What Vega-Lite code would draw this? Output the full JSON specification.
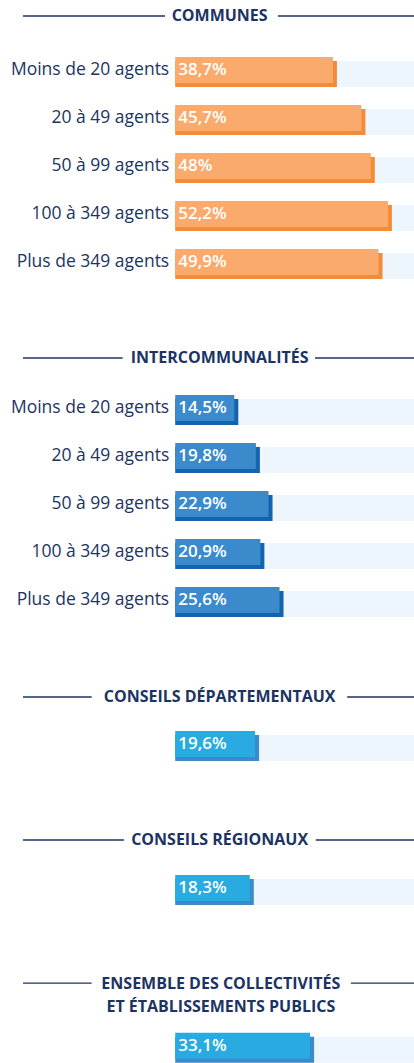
{
  "$schema": "https://vega.github.io/schema/vega-lite/v6.json",
  "padding": 0,
  "spacing": 48,
  "background": "white",
  "config": {"view": {"stroke": null}, "text": {"font": "Open Sans"}, "concat": {"spacing": 48}},
  "datasets": {
    "bars": [
      {"sec": "com", "row": "r1", "label": "Moins de 20 agents", "value": 38.7, "txt": "38,7%"},
      {"sec": "com", "row": "r2", "label": "20 à 49 agents", "value": 45.7, "txt": "45,7%"},
      {"sec": "com", "row": "r3", "label": "50 à 99 agents", "value": 48, "txt": "48%"},
      {"sec": "com", "row": "r4", "label": "100 à 349 agents", "value": 52.2, "txt": "52,2%"},
      {"sec": "com", "row": "r5", "label": "Plus de 349 agents", "value": 49.9, "txt": "49,9%"},
      {"sec": "int", "row": "r1", "label": "Moins de 20 agents", "value": 14.5, "txt": "14,5%"},
      {"sec": "int", "row": "r2", "label": "20 à 49 agents", "value": 19.8, "txt": "19,8%"},
      {"sec": "int", "row": "r3", "label": "50 à 99 agents", "value": 22.9, "txt": "22,9%"},
      {"sec": "int", "row": "r4", "label": "100 à 349 agents", "value": 20.9, "txt": "20,9%"},
      {"sec": "int", "row": "r5", "label": "Plus de 349 agents", "value": 25.6, "txt": "25,6%"},
      {"sec": "dep", "row": "r1", "label": "", "value": 19.6, "txt": "19,6%"},
      {"sec": "reg", "row": "r1", "label": "", "value": 18.3, "txt": "18,3%"},
      {"sec": "ens", "row": "r1", "label": "", "value": 33.1, "txt": "33,1%"}
    ],
    "heads": [
      {"sec": "com", "row": "h", "title": "COMMUNES"},
      {"sec": "int", "row": "h", "title": "INTERCOMMUNALITÉS"},
      {"sec": "dep", "row": "h", "title": "CONSEILS DÉPARTEMENTAUX"},
      {"sec": "reg", "row": "h", "title": "CONSEILS RÉGIONAUX"},
      {"sec": "ens", "row": "h", "title": "ENSEMBLE DES COLLECTIVITÉS\nET ÉTABLISSEMENTS PUBLICS"}
    ],
    "lines": [
      {"sec": "com", "row": "h", "a": -37.35, "b": -2.5},
      {"sec": "com", "row": "h", "a": 25.2, "b": 58.6},
      {"sec": "int", "row": "h", "a": -37.35, "b": -12.9},
      {"sec": "int", "row": "h", "a": 34.3, "b": 58.6},
      {"sec": "dep", "row": "h", "a": -37.35, "b": -20.5},
      {"sec": "dep", "row": "h", "a": 42.2, "b": 58.6},
      {"sec": "reg", "row": "h", "a": -37.35, "b": -12.6},
      {"sec": "reg", "row": "h", "a": 34.5, "b": 58.6},
      {"sec": "ens", "row": "h", "a": -37.35, "b": -20.5},
      {"sec": "ens", "row": "h", "a": 43.1, "b": 58.6}
    ]
  },
  "vconcat": [
    {
      "width": 414, "height": 288,
      "layer": [
        {"data": {"name": "bars"}, "transform": [{"filter": "datum.sec === 'com'"}],
         "mark": {"type": "bar", "height": 26, "yOffset": 2, "color": "#eef6fd"},
         "encoding": {
           "y": {"field": "row", "type": "nominal", "scale": {"domain": ["h", "r1", "r2", "r3", "r4", "r5"], "paddingInner": 0, "paddingOuter": 0}, "axis": null},
           "x": {"datum": 0, "type": "quantitative", "scale": {"domain": [-43, 58.6], "nice": false, "zero": false}, "axis": null},
           "x2": {"datum": 58.6}}},
        {"data": {"name": "bars"}, "transform": [{"filter": "datum.sec === 'com'"}],
         "mark": {"type": "bar", "height": 26, "yOffset": 2, "xOffset": 4, "color": "#f48c37"},
         "encoding": {"y": {"field": "row", "type": "nominal"}, "x": {"field": "value", "type": "quantitative"}, "x2": {"datum": 0}}},
        {"data": {"name": "bars"}, "transform": [{"filter": "datum.sec === 'com'"}],
         "mark": {"type": "bar", "height": 26, "yOffset": -2, "color": "#f9aa6c"},
         "encoding": {"y": {"field": "row", "type": "nominal"}, "x": {"field": "value", "type": "quantitative"}, "x2": {"datum": 0}}},
        {"data": {"name": "bars"}, "transform": [{"filter": "datum.sec === 'com'"}],
         "mark": {"type": "text", "align": "left", "baseline": "middle", "dx": 3, "dy": -2, "fontSize": 17, "fontWeight": 600, "color": "white"},
         "encoding": {"y": {"field": "row", "type": "nominal"}, "x": {"datum": 0, "type": "quantitative"}, "text": {"field": "txt"}}},
        {"data": {"name": "bars"}, "transform": [{"filter": "datum.sec === 'com'"}],
         "mark": {"type": "text", "align": "right", "baseline": "middle", "dx": -6, "dy": -2, "fontSize": 17.5, "color": "#1d3461"},
         "encoding": {"y": {"field": "row", "type": "nominal"}, "x": {"datum": 0, "type": "quantitative"}, "text": {"field": "label"}}},
        {"data": {"name": "lines"}, "transform": [{"filter": "datum.sec === 'com'"}],
         "mark": {"type": "rule", "yOffset": -8, "color": "#1b3463", "strokeWidth": 1.3},
         "encoding": {"y": {"field": "row", "type": "nominal"}, "x": {"field": "a", "type": "quantitative"}, "x2": {"field": "b"}}},
        {"data": {"name": "heads"}, "transform": [{"filter": "datum.sec === 'com'"}],
         "mark": {"type": "text", "align": "center", "baseline": "middle", "dy": -8, "fontSize": 16, "fontWeight": "bold", "color": "#1b3463"},
         "encoding": {"y": {"field": "row", "type": "nominal"}, "x": {"datum": 10.9, "type": "quantitative"}, "text": {"field": "title"}}}
      ]
    },
    {
      "width": 414, "height": 288,
      "layer": [
        {"data": {"name": "bars"}, "transform": [{"filter": "datum.sec === 'int'"}],
         "mark": {"type": "bar", "height": 26, "yOffset": 4, "color": "#eef6fd"},
         "encoding": {
           "y": {"field": "row", "type": "nominal", "scale": {"domain": ["h", "r1", "r2", "r3", "r4", "r5"], "paddingInner": 0, "paddingOuter": 0}, "axis": null},
           "x": {"datum": 0, "type": "quantitative", "scale": {"domain": [-43, 58.6], "nice": false, "zero": false}, "axis": null},
           "x2": {"datum": 58.6}}},
        {"data": {"name": "bars"}, "transform": [{"filter": "datum.sec === 'int'"}],
         "mark": {"type": "bar", "height": 26, "yOffset": 4, "xOffset": 4, "color": "#1563ac"},
         "encoding": {"y": {"field": "row", "type": "nominal"}, "x": {"field": "value", "type": "quantitative"}, "x2": {"datum": 0}}},
        {"data": {"name": "bars"}, "transform": [{"filter": "datum.sec === 'int'"}],
         "mark": {"type": "bar", "height": 26, "color": "#3b8acb"},
         "encoding": {"y": {"field": "row", "type": "nominal"}, "x": {"field": "value", "type": "quantitative"}, "x2": {"datum": 0}}},
        {"data": {"name": "bars"}, "transform": [{"filter": "datum.sec === 'int'"}],
         "mark": {"type": "text", "align": "left", "baseline": "middle", "dx": 3, "fontSize": 17, "fontWeight": 600, "color": "white"},
         "encoding": {"y": {"field": "row", "type": "nominal"}, "x": {"datum": 0, "type": "quantitative"}, "text": {"field": "txt"}}},
        {"data": {"name": "bars"}, "transform": [{"filter": "datum.sec === 'int'"}],
         "mark": {"type": "text", "align": "right", "baseline": "middle", "dx": -6, "fontSize": 17.5, "color": "#1d3461"},
         "encoding": {"y": {"field": "row", "type": "nominal"}, "x": {"datum": 0, "type": "quantitative"}, "text": {"field": "label"}}},
        {"data": {"name": "lines"}, "transform": [{"filter": "datum.sec === 'int'"}],
         "mark": {"type": "rule", "yOffset": -2, "color": "#1b3463", "strokeWidth": 1.3},
         "encoding": {"y": {"field": "row", "type": "nominal"}, "x": {"field": "a", "type": "quantitative"}, "x2": {"field": "b"}}},
        {"data": {"name": "heads"}, "transform": [{"filter": "datum.sec === 'int'"}],
         "mark": {"type": "text", "align": "center", "baseline": "middle", "dy": -2, "fontSize": 16, "fontWeight": "bold", "color": "#1b3463"},
         "encoding": {"y": {"field": "row", "type": "nominal"}, "x": {"datum": 10.9, "type": "quantitative"}, "text": {"field": "title"}}}
      ]
    },
    {
      "width": 414, "height": 96,
      "layer": [
        {"data": {"name": "bars"}, "transform": [{"filter": "datum.sec === 'dep'"}],
         "mark": {"type": "bar", "height": 26, "yOffset": 4, "color": "#eef6fd"},
         "encoding": {
           "y": {"field": "row", "type": "nominal", "scale": {"domain": ["h", "r1"], "paddingInner": 0, "paddingOuter": 0}, "axis": null},
           "x": {"datum": 0, "type": "quantitative", "scale": {"domain": [-43, 58.6], "nice": false, "zero": false}, "axis": null},
           "x2": {"datum": 58.6}}},
        {"data": {"name": "bars"}, "transform": [{"filter": "datum.sec === 'dep'"}],
         "mark": {"type": "bar", "height": 26, "yOffset": 4, "xOffset": 4, "color": "#3b8bcb"},
         "encoding": {"y": {"field": "row", "type": "nominal"}, "x": {"field": "value", "type": "quantitative"}, "x2": {"datum": 0}}},
        {"data": {"name": "bars"}, "transform": [{"filter": "datum.sec === 'dep'"}],
         "mark": {"type": "bar", "height": 26, "color": "#29aae1"},
         "encoding": {"y": {"field": "row", "type": "nominal"}, "x": {"field": "value", "type": "quantitative"}, "x2": {"datum": 0}}},
        {"data": {"name": "bars"}, "transform": [{"filter": "datum.sec === 'dep'"}],
         "mark": {"type": "text", "align": "left", "baseline": "middle", "dx": 3, "fontSize": 17, "fontWeight": 600, "color": "white"},
         "encoding": {"y": {"field": "row", "type": "nominal"}, "x": {"datum": 0, "type": "quantitative"}, "text": {"field": "txt"}}},
        {"data": {"name": "lines"}, "transform": [{"filter": "datum.sec === 'dep'"}],
         "mark": {"type": "rule", "yOffset": 1, "color": "#1b3463", "strokeWidth": 1.3},
         "encoding": {"y": {"field": "row", "type": "nominal"}, "x": {"field": "a", "type": "quantitative"}, "x2": {"field": "b"}}},
        {"data": {"name": "heads"}, "transform": [{"filter": "datum.sec === 'dep'"}],
         "mark": {"type": "text", "align": "center", "baseline": "middle", "dy": 1, "fontSize": 16, "fontWeight": "bold", "color": "#1b3463"},
         "encoding": {"y": {"field": "row", "type": "nominal"}, "x": {"datum": 10.9, "type": "quantitative"}, "text": {"field": "title"}}}
      ]
    },
    {
      "width": 414, "height": 96,
      "layer": [
        {"data": {"name": "bars"}, "transform": [{"filter": "datum.sec === 'reg'"}],
         "mark": {"type": "bar", "height": 26, "yOffset": 4, "color": "#eef6fd"},
         "encoding": {
           "y": {"field": "row", "type": "nominal", "scale": {"domain": ["h", "r1"], "paddingInner": 0, "paddingOuter": 0}, "axis": null},
           "x": {"datum": 0, "type": "quantitative", "scale": {"domain": [-43, 58.6], "nice": false, "zero": false}, "axis": null},
           "x2": {"datum": 58.6}}},
        {"data": {"name": "bars"}, "transform": [{"filter": "datum.sec === 'reg'"}],
         "mark": {"type": "bar", "height": 26, "yOffset": 4, "xOffset": 4, "color": "#3b8bcb"},
         "encoding": {"y": {"field": "row", "type": "nominal"}, "x": {"field": "value", "type": "quantitative"}, "x2": {"datum": 0}}},
        {"data": {"name": "bars"}, "transform": [{"filter": "datum.sec === 'reg'"}],
         "mark": {"type": "bar", "height": 26, "color": "#29aae1"},
         "encoding": {"y": {"field": "row", "type": "nominal"}, "x": {"field": "value", "type": "quantitative"}, "x2": {"datum": 0}}},
        {"data": {"name": "bars"}, "transform": [{"filter": "datum.sec === 'reg'"}],
         "mark": {"type": "text", "align": "left", "baseline": "middle", "dx": 3, "fontSize": 17, "fontWeight": 600, "color": "white"},
         "encoding": {"y": {"field": "row", "type": "nominal"}, "x": {"datum": 0, "type": "quantitative"}, "text": {"field": "txt"}}},
        {"data": {"name": "lines"}, "transform": [{"filter": "datum.sec === 'reg'"}],
         "mark": {"type": "rule", "yOffset": 0, "color": "#1b3463", "strokeWidth": 1.3},
         "encoding": {"y": {"field": "row", "type": "nominal"}, "x": {"field": "a", "type": "quantitative"}, "x2": {"field": "b"}}},
        {"data": {"name": "heads"}, "transform": [{"filter": "datum.sec === 'reg'"}],
         "mark": {"type": "text", "align": "center", "baseline": "middle", "dy": 0, "fontSize": 16, "fontWeight": "bold", "color": "#1b3463"},
         "encoding": {"y": {"field": "row", "type": "nominal"}, "x": {"datum": 10.9, "type": "quantitative"}, "text": {"field": "title"}}}
      ]
    },
    {
      "width": 414, "height": 103,
      "layer": [
        {"data": {"name": "bars"}, "transform": [{"filter": "datum.sec === 'ens'"}],
         "mark": {"type": "bar", "height": 26, "yOffset": 4, "color": "#eef6fd"},
         "encoding": {
           "y": {"field": "row", "type": "nominal", "scale": {"domain": ["h", "r1"], "paddingInner": 0.5, "paddingOuter": 0}, "axis": null},
           "x": {"datum": 0, "type": "quantitative", "scale": {"domain": [-43, 58.6], "nice": false, "zero": false}, "axis": null},
           "x2": {"datum": 58.6}}},
        {"data": {"name": "bars"}, "transform": [{"filter": "datum.sec === 'ens'"}],
         "mark": {"type": "bar", "height": 26, "yOffset": 4, "xOffset": 4, "color": "#3b8bcb"},
         "encoding": {"y": {"field": "row", "type": "nominal"}, "x": {"field": "value", "type": "quantitative"}, "x2": {"datum": 0}}},
        {"data": {"name": "bars"}, "transform": [{"filter": "datum.sec === 'ens'"}],
         "mark": {"type": "bar", "height": 26, "color": "#29aae1"},
         "encoding": {"y": {"field": "row", "type": "nominal"}, "x": {"field": "value", "type": "quantitative"}, "x2": {"datum": 0}}},
        {"data": {"name": "bars"}, "transform": [{"filter": "datum.sec === 'ens'"}],
         "mark": {"type": "text", "align": "left", "baseline": "middle", "dx": 3, "fontSize": 17, "fontWeight": 600, "color": "white"},
         "encoding": {"y": {"field": "row", "type": "nominal"}, "x": {"datum": 0, "type": "quantitative"}, "text": {"field": "txt"}}},
        {"data": {"name": "lines"}, "transform": [{"filter": "datum.sec === 'ens'"}],
         "mark": {"type": "rule", "yOffset": 6, "color": "#1b3463", "strokeWidth": 1.3},
         "encoding": {"y": {"field": "row", "type": "nominal"}, "x": {"field": "a", "type": "quantitative"}, "x2": {"field": "b"}}},
        {"data": {"name": "heads"}, "transform": [{"filter": "datum.sec === 'ens'"}],
         "mark": {"type": "text", "align": "center", "baseline": "top", "dy": -1, "fontSize": 16, "fontWeight": "bold", "color": "#1b3463", "lineBreak": "\n", "lineHeight": 23},
         "encoding": {"y": {"field": "row", "type": "nominal"}, "x": {"datum": 11.2, "type": "quantitative"}, "text": {"field": "title"}}}
      ]
    }
  ]
}
